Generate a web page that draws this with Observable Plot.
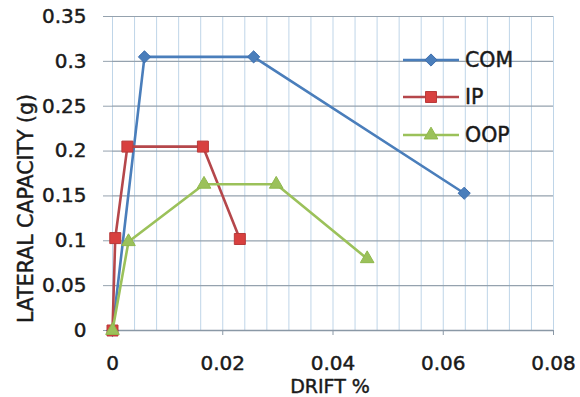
<!DOCTYPE html>
<html>
<head>
<meta charset="utf-8">
<script src="https://cdn.jsdelivr.net/npm/d3@7"></script>
<script src="https://cdn.jsdelivr.net/npm/@observablehq/plot@0.6"></script>
<style>
  body { margin: 0; background: #fff; }
  #wrap { position: relative; width: 580px; height: 397px; font-family: "DejaVu Sans", sans-serif; }
  #legend { position: absolute; left: 0; top: 0; pointer-events: none; }
</style>
</head>
<body>
<div id="wrap"></div>
<script>
// Series (drift %, lateral capacity g)
const comX = [0, 0.0058, 0.0256, 0.0638];
const comY = [0, 0.305, 0.305, 0.153];
const ipX = [0, 0.0005, 0.0027, 0.0164, 0.0231];
const ipY = [0, 0.103, 0.205, 0.205, 0.102];
const oopX = [0, 0.0029, 0.0166, 0.0297, 0.0462];
const oopY = [0, 0.099, 0.163, 0.163, 0.08];

const seriesNames = ["COM", "IP", "OOP"];
const xTicks = [0, 0.02, 0.04, 0.06, 0.08];
const xMinor = [0, 0.004, 0.008, 0.012, 0.016, 0.02, 0.024, 0.028, 0.032, 0.036, 0.04,
                0.044, 0.048, 0.052, 0.056, 0.06, 0.064, 0.068, 0.072, 0.076, 0.08];
const yTicks = [0, 0.05, 0.1, 0.15, 0.2, 0.25, 0.3, 0.35];

const styles = {
  COM: {stroke: "#4a7ebb", fill: "#4a7ebb", symbol: "diamond2", r: 5.5, mstroke: "#3d6eae"},
  IP:  {stroke: "#b5474b", fill: "#d8403f", symbol: "square2", r: 7, mstroke: "#b83a3a"},
  OOP: {stroke: "#9bc15a", fill: "#9bc15a", symbol: "triangle2", r: 6.5, mstroke: "#8fb84c"}
};

const build = (name, xs, ys) => xs.map((x, i) => ({series: name, x, y: ys[i]}));
const com = build("COM", comX, comY);
const ip = build("IP", ipX, ipY);
const oop = build("OOP", oopX, oopY);

const font = "'DejaVu Sans', sans-serif";
const textColor = "#1a1a1a";
const thick = 0.45;
const lineMarks = (d, s) => [
  Plot.line(d, {x: "x", y: "y", stroke: s.stroke, strokeWidth: 2.6}),
  Plot.dot(d, {x: "x", y: "y", symbol: () => s.symbol, r: s.r, fill: s.fill, stroke: s.mstroke, strokeWidth: 1})
];

const chart = Plot.plot({
  width: 580,
  height: 397,
  marginLeft: 112,
  marginRight: 27,
  marginTop: 16,
  marginBottom: 67,
  style: {fontFamily: font, background: "#fff", overflow: "visible"},
  x: {domain: [0, 0.08]},
  y: {domain: [0, 0.35]},
  marks: [
    Plot.gridX(xMinor, {stroke: "#bfd5e8", strokeOpacity: 1, strokeWidth: 1}),
    Plot.gridY(yTicks, {stroke: "#95a2ae", strokeOpacity: 1, strokeWidth: 1.2}),
    Plot.ruleY([0], {stroke: "#8a98a6", strokeWidth: 1.4}),
    Plot.axisX(xTicks, {tickSize: 5, tickPadding: 20, tickFormat: d => String(d), fontSize: 20, fill: textColor, stroke: "#8a98a6", textStroke: textColor, textStrokeWidth: thick, textStrokeOpacity: 1, label: null}),
    Plot.axisY(yTicks, {tickSize: 9, tickPadding: 17, tickFormat: d => String(d), fontSize: 20, fill: textColor, stroke: "#95a2ae", textStroke: textColor, textStrokeWidth: thick, textStrokeOpacity: 1, label: null}),
    Plot.text(["DRIFT %"], {frameAnchor: "bottom", dx: -3, dy: 62, lineAnchor: "bottom", fontSize: 19, fill: textColor, stroke: textColor, strokeWidth: thick}),
    Plot.text(["LATERAL CAPACITY (g)"], {frameAnchor: "left", textAnchor: "middle", rotate: -90, dx: -86, dy: 35, fontSize: 20.5, fill: textColor, stroke: textColor, strokeWidth: thick}),
    ...lineMarks(com, styles.COM),
    ...lineMarks(ip, styles.IP),
    ...lineMarks(oop, styles.OOP)
  ]
});

const wrap = document.getElementById("wrap");
wrap.appendChild(chart);

// Legend overlay
const legendRows = [60, 97, 135];
const svg = d3.select(wrap).append("svg").attr("id", "legend").attr("width", 580).attr("height", 397);
const symMap = {diamond2: d3.symbolDiamond2, square2: d3.symbolSquare2, triangle2: d3.symbolTriangle2};
seriesNames.forEach((name, i) => {
  const s = styles[name];
  const y = legendRows[i];
  const g = svg.append("g").attr("transform", `translate(0,${y})`);
  g.append("line").attr("x1", 403).attr("x2", 459).attr("y1", 0).attr("y2", 0)
    .attr("stroke", s.stroke).attr("stroke-width", 2.6);
  g.append("path").attr("transform", "translate(431,0)")
    .attr("d", d3.symbol(symMap[s.symbol], Math.PI * s.r * s.r)())
    .attr("fill", s.fill).attr("stroke", s.mstroke);
  g.append("text").attr("x", 465).attr("y", 0).attr("dy", "0.36em")
    .attr("font-family", font).attr("font-size", 20.5)
    .attr("fill", textColor).attr("stroke", textColor).attr("stroke-width", thick)
    .text(name);
});
</script>
</body>
</html>
